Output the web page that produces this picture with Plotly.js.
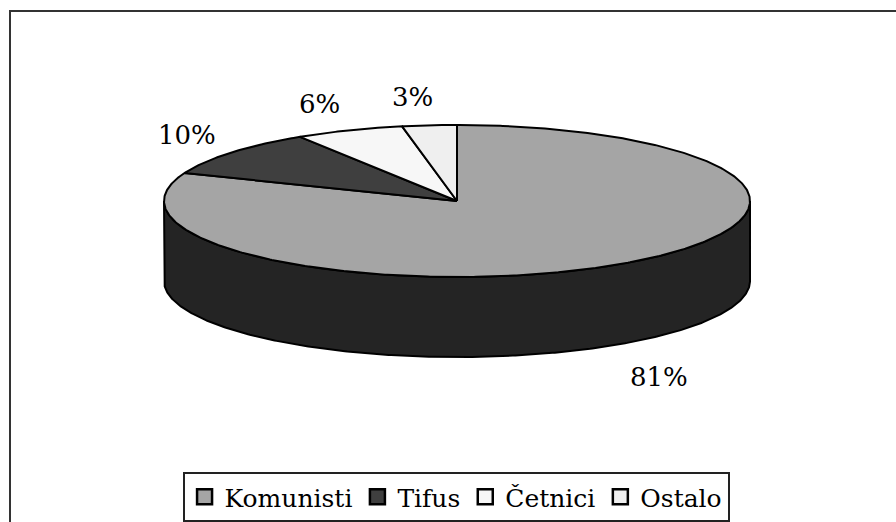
<!DOCTYPE html>
<html>
<head>
<meta charset="utf-8">
<script src="https://cdn.plot.ly/plotly-3.0.1.min.js"></script>
<style>html,body{margin:0;padding:0;background:#fff;}#chart{width:896px;height:522px;}</style>
</head>
<body>
<div id="chart"></div>
<script>
// ---- data ----
const categories = ['Komunisti', 'Tifus', 'Četnici', 'Ostalo'];
const shares = [81, 10, 6, 3];
const labelTexts = ['81%', '10%', '6%', '3%'];

// ---- style ----
const topColors = ['#a5a5a5', '#3f3f3f', '#f7f7f7', '#efefef'];
const sideColors = ['#242424', '#1a1a1a', '#bdbdbd', '#b5b5b5'];
const FONT = "DejaVu Serif";
const W = 896, H = 522;
const geo = { cx: 457, cy: 201, rx: 293, ry: 76, depth: 80 };

function pt(deg, dy) {
  const r = deg * Math.PI / 180;
  return [geo.cx + geo.rx * Math.sin(r), geo.cy - geo.ry * Math.cos(r) + (dy || 0)];
}

const total = shares.reduce((a, b) => a + b, 0);
let acc = 0;
const slices = shares.map((v, i) => {
  const s = acc / total * 360;
  acc += v;
  const e = acc / total * 360;
  return { i, s, e };
});

const traces = [];
slices.forEach(sl => {
  const a = Math.max(sl.s, 90), b = Math.min(sl.e, 270);
  if (b <= a) return;
  const xs = [], ys = [];
  const n = Math.max(2, Math.ceil((b - a) / 0.5));
  for (let k = 0; k <= n; k++) { const p = pt(a + (b - a) * k / n); xs.push(p[0]); ys.push(p[1]); }
  for (let k = n; k >= 0; k--) { const p = pt(a + (b - a) * k / n, geo.depth); xs.push(p[0]); ys.push(p[1]); }
  xs.push(xs[0]); ys.push(ys[0]);
  traces.push({ type: 'scatter', mode: 'lines', x: xs, y: ys, fill: 'toself',
    fillcolor: sideColors[sl.i], line: { color: '#000', width: 2 }, showlegend: false, hoverinfo: 'skip' });
});
slices.forEach(sl => {
  const xs = [geo.cx], ys = [geo.cy];
  const n = Math.max(2, Math.ceil((sl.e - sl.s) / 0.5));
  for (let k = 0; k <= n; k++) { const p = pt(sl.s + (sl.e - sl.s) * k / n); xs.push(p[0]); ys.push(p[1]); }
  xs.push(geo.cx); ys.push(geo.cy);
  traces.push({ type: 'scatter', mode: 'lines', x: xs, y: ys, fill: 'toself',
    fillcolor: topColors[sl.i], line: { color: '#000', width: 2 }, showlegend: false,
    name: categories[sl.i], hoverinfo: 'name' });
});
categories.forEach((c, i) => {
  traces.push({ type: 'scatter', mode: 'markers', x: [null], y: [null], name: c,
    marker: { symbol: 'square', size: 15, color: topColors[i], line: { color: '#000', width: 2.5 } } });
});

const annotations = slices.map(sl => {
  const mid = (sl.s + sl.e) / 2 * Math.PI / 180;
  const sn = Math.sin(mid), cs = Math.cos(mid);
  const x = geo.cx + (geo.rx + 55) * sn + (cs > 0 ? -12 * Math.pow(cs, 4) : 6);
  const y = geo.cy - (geo.ry + 28) * cs + (cs < 0 ? geo.depth + 10 : 0);
  return { x, y, xref: 'x', yref: 'y', text: labelTexts[sl.i], showarrow: false,
    font: { family: FONT, size: 26, color: '#000' } };
});

const layout = {
  width: W, height: H,
  font: { family: FONT },
  margin: { l: 0, r: 0, t: 0, b: 0, pad: 0 },
  paper_bgcolor: '#fff', plot_bgcolor: '#fff',
  xaxis: { range: [0, W], visible: false, fixedrange: true },
  yaxis: { range: [H, 0], visible: false, fixedrange: true },
  showlegend: true,
  legend: { orientation: 'h', x: 0.509, xanchor: 'center', y: (H - 497) / H, yanchor: 'middle',
    bgcolor: '#fff', bordercolor: '#222', borderwidth: 2,
    font: { family: FONT, size: 25, color: '#000' },
    itemwidth: 30, tracegroupgap: 0 },
  annotations: annotations,
  shapes: [{ type: 'rect', xref: 'paper', yref: 'paper', x0: 10 / W, x1: 1.05, y0: 1 - 11 / H, y1: -0.05,
    line: { color: '#333', width: 2 }, layer: 'below' }]
};

Plotly.newPlot('chart', traces, layout, { displayModeBar: false, staticPlot: true });
</script>
</body>
</html>
